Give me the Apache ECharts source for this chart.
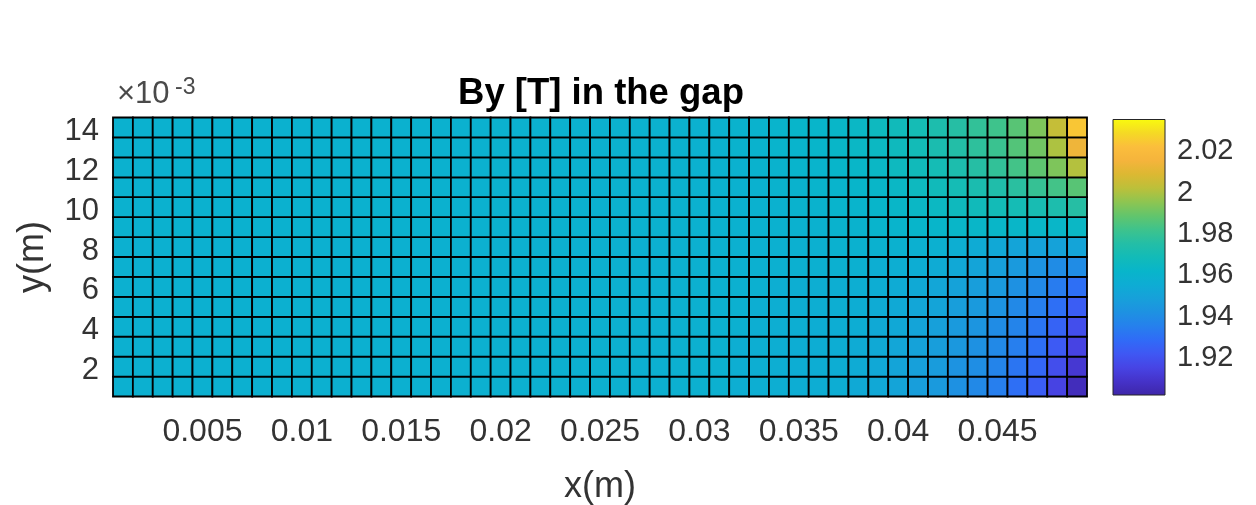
<!DOCTYPE html>
<html>
<head>
<meta charset="utf-8">
<script src="https://cdn.jsdelivr.net/npm/echarts@6/dist/echarts.min.js"></script>
<style>html,body{margin:0;padding:0;background:#fff;}#chart{width:1256px;height:505px;}</style>
</head>
<body>
<div id="chart"></div>
<script>
// Grid edges (m)
const xEdges = [0.0005,0.0015,0.0025,0.0035,0.0045,0.0055,0.0065,0.0075,0.0085,0.0095,
  0.0105,0.0115,0.0125,0.0135,0.0145,0.0155,0.0165,0.0175,0.0185,0.0195,
  0.0205,0.0215,0.0225,0.0235,0.0245,0.0255,0.0265,0.0275,0.0285,0.0295,
  0.0305,0.0315,0.0325,0.0335,0.0345,0.0355,0.0365,0.0375,0.0385,0.0395,
  0.0405,0.0415,0.0425,0.0435,0.0445,0.0455,0.0465,0.0475,0.0485,0.0495];
const yEdges = [0.0005,0.0015,0.0025,0.0035,0.0045,0.0055,0.0065,0.0075,0.0085,0.0095,0.0105,0.0115,0.0125,0.0135,0.0145];

// By [T] per cell, one array per row (bottom row first)
const by_y01 = [1.957,1.957,1.957,1.957,1.957,1.957,1.957,1.957,1.957,1.957,
  1.957,1.957,1.957,1.957,1.957,1.957,1.957,1.957,1.957,1.957,
  1.957,1.957,1.957,1.957,1.957,1.957,1.957,1.957,1.957,
  1.957,1.957,1.956,1.956,1.956,1.955,1.955,
  1.955,1.953,1.952,1.950,1.947,1.945,1.941,
  1.938,1.934,1.929,1.923,1.914,1.905];
const by_y02 = [1.957,1.957,1.957,1.957,1.957,1.957,1.957,1.957,1.957,1.957,
  1.957,1.957,1.957,1.957,1.957,1.957,1.957,1.957,1.957,1.957,
  1.957,1.957,1.957,1.957,1.957,1.957,1.957,1.957,1.957,
  1.957,1.957,1.956,1.956,1.956,1.955,1.955,
  1.955,1.954,1.952,1.950,1.948,1.946,1.942,
  1.940,1.936,1.931,1.926,1.918,1.910];
const by_y03 = [1.957,1.957,1.957,1.957,1.957,1.957,1.957,1.957,1.957,1.957,
  1.957,1.957,1.957,1.957,1.957,1.957,1.957,1.957,1.957,1.957,
  1.957,1.957,1.957,1.957,1.957,1.957,1.957,1.957,1.957,
  1.957,1.957,1.956,1.956,1.956,1.955,1.955,
  1.955,1.954,1.953,1.951,1.949,1.947,1.944,
  1.941,1.938,1.934,1.929,1.922,1.914];
const by_y04 = [1.957,1.957,1.957,1.957,1.957,1.957,1.957,1.957,1.957,1.957,
  1.957,1.957,1.957,1.957,1.957,1.957,1.957,1.957,1.957,1.957,
  1.957,1.957,1.957,1.957,1.957,1.957,1.957,1.957,1.957,
  1.957,1.957,1.957,1.956,1.956,1.956,1.955,
  1.955,1.955,1.953,1.952,1.950,1.948,1.945,
  1.943,1.939,1.936,1.931,1.925,1.918];
const by_y05 = [1.957,1.957,1.957,1.957,1.957,1.957,1.957,1.957,1.957,1.957,
  1.957,1.957,1.957,1.957,1.957,1.957,1.957,1.957,1.957,1.957,
  1.957,1.957,1.957,1.957,1.957,1.957,1.957,1.957,1.957,
  1.957,1.957,1.957,1.956,1.956,1.956,1.956,
  1.956,1.955,1.954,1.953,1.951,1.950,1.947,
  1.945,1.942,1.938,1.934,1.929,1.923];
const by_y06 = [1.957,1.957,1.957,1.957,1.957,1.957,1.957,1.957,1.957,1.957,
  1.957,1.957,1.957,1.957,1.957,1.957,1.957,1.957,1.957,1.957,
  1.957,1.957,1.957,1.957,1.957,1.957,1.957,1.957,1.957,
  1.957,1.957,1.957,1.957,1.956,1.956,1.956,
  1.956,1.956,1.955,1.954,1.953,1.951,1.949,
  1.947,1.945,1.941,1.938,1.933,1.929];
const by_y07 = [1.957,1.957,1.957,1.957,1.957,1.957,1.957,1.957,1.957,1.957,
  1.957,1.957,1.957,1.957,1.957,1.957,1.957,1.957,1.957,1.957,
  1.957,1.957,1.957,1.957,1.957,1.957,1.957,1.957,1.957,
  1.957,1.957,1.957,1.957,1.957,1.957,1.957,
  1.957,1.957,1.956,1.956,1.955,1.954,1.952,
  1.950,1.948,1.945,1.942,1.939,1.939];
const by_y08 = [1.957,1.957,1.957,1.957,1.957,1.957,1.957,1.957,1.957,1.957,
  1.957,1.957,1.957,1.957,1.957,1.957,1.957,1.957,1.957,1.957,
  1.957,1.957,1.957,1.957,1.957,1.957,1.957,1.957,1.957,
  1.957,1.957,1.957,1.957,1.957,1.957,1.957,
  1.958,1.958,1.958,1.958,1.957,1.957,1.956,
  1.954,1.952,1.950,1.949,1.949,1.950];
const by_y09 = [1.958,1.958,1.958,1.958,1.958,1.958,1.958,1.958,1.958,1.958,
  1.958,1.958,1.958,1.958,1.958,1.958,1.958,1.958,1.958,1.958,
  1.958,1.958,1.958,1.958,1.958,1.958,1.958,1.958,1.958,
  1.958,1.958,1.958,1.958,1.958,1.958,1.958,
  1.959,1.959,1.960,1.960,1.961,1.961,1.962,
  1.962,1.962,1.962,1.962,1.962,1.963];
const by_y10 = [1.958,1.958,1.958,1.958,1.958,1.958,1.958,1.958,1.958,1.958,
  1.958,1.958,1.958,1.958,1.958,1.958,1.958,1.958,1.958,1.958,
  1.958,1.958,1.958,1.958,1.958,1.958,1.958,1.958,1.958,
  1.958,1.958,1.958,1.958,1.958,1.959,1.959,
  1.960,1.960,1.961,1.962,1.963,1.964,1.966,
  1.967,1.968,1.969,1.970,1.972,1.975];
const by_y11 = [1.958,1.958,1.958,1.958,1.958,1.958,1.958,1.958,1.958,1.958,
  1.958,1.958,1.958,1.958,1.958,1.958,1.958,1.958,1.958,1.958,
  1.958,1.958,1.958,1.958,1.958,1.958,1.958,1.958,1.958,
  1.958,1.958,1.958,1.958,1.959,1.959,1.960,
  1.960,1.961,1.962,1.963,1.965,1.967,1.969,
  1.971,1.973,1.976,1.979,1.982,1.986];
const by_y12 = [1.958,1.958,1.958,1.958,1.958,1.958,1.958,1.958,1.958,1.958,
  1.958,1.958,1.958,1.958,1.958,1.958,1.958,1.958,1.958,1.958,
  1.958,1.958,1.958,1.958,1.958,1.958,1.958,1.958,1.958,
  1.958,1.958,1.958,1.959,1.959,1.960,1.960,
  1.961,1.962,1.963,1.965,1.967,1.969,1.972,
  1.975,1.978,1.982,1.987,1.992,2.000];
const by_y13 = [1.958,1.958,1.958,1.958,1.958,1.958,1.958,1.958,1.958,1.958,
  1.958,1.958,1.958,1.958,1.958,1.958,1.958,1.958,1.958,1.958,
  1.958,1.958,1.958,1.958,1.958,1.958,1.958,1.958,1.958,
  1.958,1.958,1.959,1.959,1.960,1.960,1.961,
  1.962,1.963,1.964,1.966,1.968,1.971,1.974,
  1.977,1.980,1.985,1.990,1.999,2.013];
const by_y14 = [1.958,1.958,1.958,1.958,1.958,1.958,1.958,1.958,1.958,1.958,
  1.958,1.958,1.958,1.958,1.958,1.958,1.958,1.958,1.958,1.958,
  1.958,1.958,1.958,1.958,1.958,1.958,1.958,1.958,1.958,
  1.958,1.958,1.959,1.959,1.960,1.961,1.961,
  1.962,1.963,1.965,1.967,1.969,1.972,1.975,
  1.978,1.981,1.986,1.992,2.003,2.023];
const rows = [by_y01,by_y02,by_y03,by_y04,by_y05,by_y06,by_y07,by_y08,by_y09,by_y10,by_y11,by_y12,by_y13,by_y14];

// Tick values / labels
const xTicks = [0.005,0.01,0.015,0.02,0.025,0.03,0.035,0.04,0.045];
const xTickLabels = ['0.005','0.01','0.015','0.02','0.025','0.03','0.035','0.04','0.045'];
const yTicks = [0.002,0.004,0.006,0.008,0.010,0.012,0.014];
const yTickLabels = ['2','4','6','8','10','12','14'];
const cbTicks = [1.92,1.94,1.96,1.98,2.00,2.02];
const cbTickLabels = ['1.92','1.94','1.96','1.98','2','2.02'];
const cMin = 1.901, cMax = 2.0345;

// parula-like colormap
const parula = ['#3e26a8','#4532c8','#4744e4','#3f57f3','#306bf7','#2680ed','#1e91e2','#17a0da','#0eacd4','#08b5ca',
  '#12bbb8','#24bea6','#3ec38c','#62c56c','#8ec551','#bcc03a','#dcb832','#f5b43c','#fbbe3c','#f5da24','#f9fb0e'];

const cells = [];
for (let r = 0; r < rows.length; r++) {
  for (let c = 0; c < rows[r].length; c++) {
    cells.push([xEdges[c], xEdges[c+1], yEdges[r], yEdges[r+1], rows[r][c]]);
  }
}

const FONT = '"Liberation Sans", Arial, Helvetica, sans-serif';
const TXT = '#333333';

function labelFromList(ticks, labels) {
  return function (v) {
    for (let i = 0; i < ticks.length; i++) if (Math.abs(ticks[i] - v) < 1e-9) return labels[i];
    return '';
  };
}

const chart = echarts.init(document.getElementById('chart'), null, {renderer: 'canvas'});
chart.setOption({
  animation: false,
  backgroundColor: '#ffffff',
  title: {
    text: 'By [T] in the gap',
    left: 596, top: 70, textAlign: 'center',
    textStyle: {fontFamily: FONT, fontWeight: 'bold', fontSize: 36.5, color: '#000'}
  },
  grid: [
    {left: 113, top: 117.5, width: 974, height: 279, containLabel: false, outerBoundsMode: 'none'},
    {left: 1113, top: 119.5, width: 52, height: 275.5, containLabel: false, outerBoundsMode: 'none'}
  ],
  xAxis: [
    {
      gridIndex: 0, type: 'value', min: xEdges[0], max: xEdges[xEdges.length-1],
      name: 'x(m)', nameLocation: 'middle', nameGap: 73,
      nameTextStyle: {fontFamily: FONT, fontSize: 36, color: TXT},
      axisLine: {show: true, onZero: false, lineStyle: {color: '#262626', width: 1}},
      axisTick: {show: false},
      splitLine: {show: false},
      axisLabel: {customValues: xTicks, formatter: labelFromList(xTicks, xTickLabels),
        fontFamily: FONT, fontSize: 32, color: TXT, margin: 20}
    },
    {gridIndex: 1, type: 'value', min: 0, max: 1, show: false}
  ],
  yAxis: [
    {
      gridIndex: 0, type: 'value', min: yEdges[0], max: yEdges[yEdges.length-1],
      name: 'y(m)', nameLocation: 'middle', nameGap: 62, nameRotate: 90,
      nameTextStyle: {fontFamily: FONT, fontSize: 36, color: TXT},
      axisLine: {show: true, onZero: false, lineStyle: {color: '#262626', width: 1}},
      axisTick: {show: false},
      splitLine: {show: false},
      axisLabel: {customValues: yTicks, formatter: labelFromList(yTicks, yTickLabels),
        fontFamily: FONT, fontSize: 31, color: TXT, margin: 14, verticalAlign: 'top', lineHeight: 8}
    },
    {
      gridIndex: 1, type: 'value', min: cMin, max: cMax, position: 'right',
      axisLine: {show: false},
      axisTick: {show: false},
      splitLine: {show: false},
      axisLabel: {customValues: cbTicks, formatter: labelFromList(cbTicks, cbTickLabels),
        fontFamily: FONT, fontSize: 29, color: TXT, margin: 12, verticalAlign: 'top', lineHeight: 4}
    }
  ],
  visualMap: {
    type: 'continuous', show: false, min: cMin, max: cMax, dimension: 4, seriesIndex: 0,
    inRange: {color: parula}
  },
  graphic: [
    {type: 'text', x: 117, y: 110, style: {text: '\u00d710', font: '31px ' + FONT, fill: '#4a4a4a', textVerticalAlign: 'bottom'}},
    {type: 'text', x: 175, y: 99, style: {text: '-3', font: '23px ' + FONT, fill: '#4a4a4a', textVerticalAlign: 'bottom'}}
  ],
  series: [
    {
      type: 'custom', xAxisIndex: 0, yAxisIndex: 0,
      dimensions: ['x0','x1','y0','y1','By'],
      encode: {x: [0,1], y: [2,3]},
      data: cells,
      renderItem: function (params, api) {
        const p0 = api.coord([api.value(0), api.value(2)]);
        const p1 = api.coord([api.value(1), api.value(3)]);
        return {
          type: 'rect',
          shape: {x: p0[0], y: p1[1], width: p1[0]-p0[0], height: p0[1]-p1[1]},
          style: {fill: api.visual('color'), stroke: '#000', lineWidth: 1.8}
        };
      }
    },
    {
      type: 'custom', xAxisIndex: 1, yAxisIndex: 1,
      data: [[0, cMin, 1, cMax]],
      encode: {x: [0,2], y: [1,3]},
      renderItem: function (params, api) {
        const p0 = api.coord([api.value(0), api.value(1)]);
        const p1 = api.coord([api.value(2), api.value(3)]);
        const stops = parula.map(function (c, i) { return {offset: i/(parula.length-1), color: c}; });
        return {
          type: 'rect',
          shape: {x: p0[0], y: p1[1], width: p1[0]-p0[0], height: p0[1]-p1[1]},
          style: {fill: new echarts.graphic.LinearGradient(0, 1, 0, 0, stops), stroke: '#262626', lineWidth: 1}
        };
      }
    }
  ]
});
</script>
</body>
</html>
